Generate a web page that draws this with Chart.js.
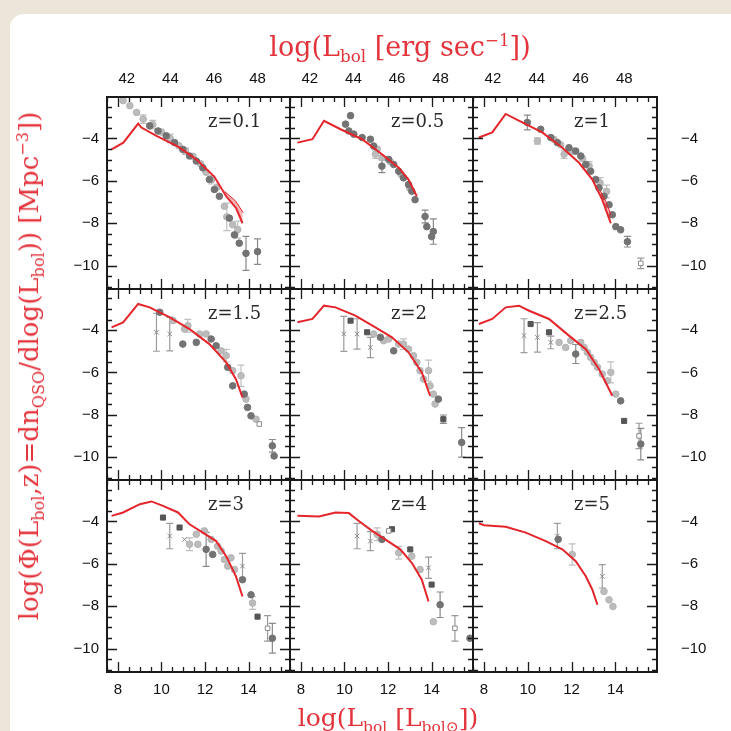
<!DOCTYPE html>
<html>
<head>
<meta charset="utf-8">
<script src="https://cdn.jsdelivr.net/npm/chart.js@4.4.1/dist/chart.umd.min.js"></script>
<style>
  html, body { margin: 0; padding: 0; }
  body { width: 731px; height: 731px; background: #ece5d9; position: relative; overflow: hidden; }
  #sheet { position: absolute; left: 10px; top: 14px; right: 0; bottom: 0; background: #fff; border-top-left-radius: 14px; }
  canvas { position: absolute; }
  .ttl { position: absolute; color: #e3343c; font-family: 'DejaVu Serif', serif; white-space: nowrap; line-height: 1; }
  .ttl sub, .ttl sup { font-size: 62%; }
  .zlab { position: absolute; font-family: 'DejaVu Serif', serif; font-size: 18px; color: #2a2a2a; line-height: 1; white-space: nowrap; }
</style>
</head>
<body>
<div id="sheet"></div>
<script>
// axis ticks
const xTicks = [8, 10, 12, 14];
const topTicks = [42, 44, 46, 48];
const yTicks = [-4, -6, -8, -10];
const LSUN = 33.59; // log L_sun in erg/s
const redshifts = ['z=0.1', 'z=0.5', 'z=1', 'z=1.5', 'z=2', 'z=2.5', 'z=3', 'z=4', 'z=5'];

// model curves [logL, logPhi]
const z01Model = [[7.71,-4.52],[8.25,-4.2],[8.93,-3.3],[9.08,-3.49],[9.77,-3.88],[10.76,-4.39],[11.6,-4.99],[12.43,-5.81],[12.97,-6.73],[13.42,-7.28],[13.72,-8.0]];
const z05Model = [[7.84,-4.2],[8.53,-4.04],[9.06,-3.17],[9.82,-3.57],[10.81,-4.04],[11.72,-4.75],[12.49,-5.38],[12.94,-5.94],[13.32,-6.73]];
const z1Model = [[7.77,-3.96],[8.38,-3.72],[8.99,-2.85],[9.75,-3.25],[10.66,-3.72],[11.58,-4.44],[12.34,-5.15],[12.95,-5.94],[13.4,-6.89],[13.79,-8.0]];
const z15Model = [[7.71,-3.87],[8.24,-3.63],[8.93,-2.76],[9.46,-2.92],[10.38,-3.39],[11.29,-3.95],[12.2,-4.66],[12.97,-5.53],[13.42,-6.32],[13.72,-7.19]];
const z2Model = [[7.84,-3.63],[8.53,-3.47],[9.06,-2.84],[9.59,-2.92],[10.5,-3.31],[11.42,-3.87],[12.18,-4.34],[12.94,-5.05],[13.55,-6.0],[13.93,-7.11]];
const z25Model = [[7.77,-3.71],[8.38,-3.47],[8.99,-2.92],[9.6,-2.84],[10.06,-3.08],[10.97,-3.47],[11.88,-4.26],[12.65,-4.9],[13.25,-5.84],[13.86,-7.11]];
const z3Model = [[7.71,-3.74],[8.24,-3.58],[9.01,-3.19],[9.54,-3.06],[10.07,-3.27],[10.76,-3.58],[11.29,-4.14],[11.9,-4.53],[12.51,-4.93],[12.97,-5.64],[13.42,-6.59],[13.72,-7.54]];
const z4Model = [[7.84,-3.74],[8.83,-3.77],[9.59,-3.58],[10.2,-3.61],[10.66,-3.98],[11.27,-4.45],[11.87,-4.85],[12.56,-5.32],[13.09,-5.95],[13.55,-6.75],[13.86,-7.78]];
const z5Model = [[7.77,-4.09],[8.0,-4.18],[8.99,-4.25],[9.91,-4.53],[10.82,-4.93],[11.58,-5.32],[12.19,-5.88],[12.65,-6.59],[12.95,-7.22],[13.18,-7.93]];

// upper edge of the model uncertainty band at the bright end
const z01Band = [[12.9,-6.5],[13.4,-6.95],[13.75,-7.5]];
const z1Band = [[13.3,-6.45],[13.55,-6.95],[13.8,-7.6]];

// binned data [logL, logPhi, error]
const z01Dark = [[9.46,-3.41,0],[9.84,-3.65,0],[10.22,-3.88,0],[10.6,-4.2,0],[10.98,-4.52,0],[11.29,-4.83,0],[11.6,-5.07,0],[11.9,-5.39,0],[12.2,-5.94,0],[12.43,-6.41,0],[12.66,-6.73,0],[13.12,-7.76,0],[13.35,-8.55,0],[13.57,-8.94,0],[13.88,-9.42,0.8],[14.41,-9.34,0.6]];
const z01Light = [[8.24,-2.22,0],[8.55,-2.46,0],[8.86,-2.78,0],[9.16,-3.09,0.2],[9.6,-3.35,0.2],[10.0,-3.7,0],[10.4,-4.0,0.2],[10.8,-4.35,0],[11.1,-4.6,0.15],[11.45,-4.85,0],[11.8,-5.2,0],[12.05,-5.6,0],[12.3,-5.95,0.2],[12.55,-6.3,0],[12.89,-7.2,0],[13.0,-7.7,0.65],[13.27,-8.07,0],[13.5,-8.3,0.4]];

const z05Dark = [[10.28,-2.93,0],[10.05,-3.33,0],[10.2,-3.65,0],[10.43,-3.8,0],[10.81,-3.96,0],[11.19,-4.04,0],[11.34,-4.36,0],[11.72,-5.31,0.3],[12.03,-4.99,0],[12.26,-5.23,0],[12.49,-5.55,0],[12.71,-5.86,0],[12.94,-6.18,0],[13.09,-6.49,0],[13.24,-6.89,0],[13.7,-7.68,0.3],[13.78,-8.16,0],[14.08,-8.39,0.6],[14.0,-8.63,0]];
const z05Light = [[11.42,-4.75,0.2],[11.72,-4.91,0],[11.5,-4.5,0],[12.1,-5.1,0],[12.6,-5.7,0],[13.0,-6.35,0]];

const z1Dark = [[9.98,-3.25,0.35],[10.59,-3.57,0],[11.05,-3.96,0],[11.35,-4.2,0],[11.88,-4.44,0],[12.19,-4.6,0],[12.42,-4.83,0],[12.65,-5.23,0],[12.87,-5.55,0],[13.1,-5.94,0],[13.25,-6.33,0],[13.48,-6.73,0],[13.71,-7.13,0],[13.86,-7.6,0],[14.02,-8.16,0],[14.24,-8.31,0],[14.55,-8.87,0.25]];
const z1Light = [[10.44,-4.12,0.15],[11.66,-4.75,0.2],[11.2,-4.05,0],[11.5,-4.3,0],[12.0,-4.6,0.15],[12.5,-4.95,0],[12.8,-5.3,0.2],[13.3,-6.1,0.25],[13.6,-6.5,0.3]];
const z1Open = [[15.16,-9.89,0.25]];

const z15Dark = [[9.92,-3.15,0],[10.98,-4.66,0],[11.6,-4.58,0],[12.28,-4.42,0],[12.51,-4.74,0],[13.04,-5.76,0],[13.27,-6.64,0],[13.8,-7.03,0],[13.95,-7.66,0],[14.11,-8.06,0],[15.09,-9.48,0.3],[15.17,-9.96,0]];
const z15Light = [[10.53,-3.55,0],[11.06,-3.95,0],[11.21,-3.79,0.3],[11.75,-4.18,0],[12.05,-4.18,0],[12.74,-4.98,0],[12.97,-5.21,0.3],[13.27,-5.92,0],[13.65,-6.16,0.5],[13.88,-7.27,0],[14.34,-8.22,0]];
const z15Cross = [[9.77,-4.1,0.9],[10.38,-4.18,0.8]];
const z15Open = [[14.49,-8.45,0]];

const z2Square = [[10.28,-3.55,0],[11.04,-4.1,0],[14.54,-8.22,0.2]];
const z2Dark = [[12.26,-4.98,0],[14.31,-7.27,0],[15.38,-9.32,0.7],[11.65,-4.34,0]];
const z2Light = [[11.34,-4.18,0],[11.8,-4.5,0],[12.03,-4.42,0],[12.49,-4.66,0],[12.71,-4.66,0.25],[12.94,-4.9,0],[13.17,-5.21,0],[13.32,-5.53,0],[13.47,-5.92,0],[13.63,-6.32,0],[13.86,-5.92,0.5],[13.93,-6.64,0],[14.08,-7.03,0],[14.16,-7.5,0]];
const z2Cross = [[9.97,-4.18,0.83],[10.58,-4.18,0.72],[11.19,-4.82,0.48]];

const z25Square = [[10.13,-3.71,0],[10.97,-4.1,0],[14.4,-8.3,0]];
const z25Dark = [[12.19,-5.13,0.45],[14.24,-7.35,0],[15.16,-9.4,0.75]];
const z25Light = [[11.43,-4.58,0],[11.73,-4.82,0],[11.96,-4.5,0],[12.42,-4.58,0],[12.57,-4.82,0],[12.72,-5.05,0],[12.87,-5.29,0],[13.03,-5.53,0],[13.18,-5.76,0],[13.4,-6.08,0],[13.63,-6.4,0],[13.79,-6.0,0.5],[14.02,-7.03,0]];
const z25Cross = [[9.83,-4.26,0.8],[10.44,-4.34,0.7],[11.05,-4.58,0.3]];
const z25Open = [[15.08,-9.01,0.6]];

const z3Square = [[10.07,-3.82,0],[10.83,-4.29,0],[14.41,-8.49,0]];
const z3Dark = [[12.05,-5.32,0.8],[13.72,-6.75,0],[14.11,-7.46,0],[15.09,-9.51,0.7],[12.35,-5.56,0]];
const z3Light = [[11.29,-5.08,0.3],[11.6,-4.61,0],[11.67,-5.08,0],[11.97,-4.45,0],[12.28,-4.85,0],[12.58,-5.17,0],[12.74,-5.4,0],[12.89,-5.8,0],[13.04,-6.11,0],[13.19,-5.72,0],[13.35,-6.27,0],[14.18,-7.85,0.3]];
const z3Cross = [[10.38,-4.69,0.6],[11.06,-4.85,0],[13.72,-6.11,0.6]];
const z3Open = [[14.87,-9.04,0.6]];

const z4Square = [[12.18,-4.37,0],[13.02,-5.32,0],[14.0,-6.98,0]];
const z4Dark = [[11.72,-4.85,0],[14.39,-7.93,0.6],[15.76,-9.51,0]];
const z4Light = [[11.5,-4.61,0.3],[12.49,-5.48,0.3],[13.09,-5.64,0],[13.47,-6.27,0],[14.08,-8.73,0]];
const z4Cross = [[10.58,-4.69,0.6],[11.19,-4.93,0.45],[13.86,-6.19,0.5]];
const z4Open = [[12.03,-4.45,0],[15.07,-9.04,0.6]];

const z5Dark = [[11.39,-4.85,0]];
const z5Light = [[12.03,-5.56,0.5],[13.48,-7.3,0],[13.71,-7.7,0],[13.89,-8.01,0]];
const z5Cross = [[11.35,-4.69,0.6],[13.4,-6.59,0.55]];

const panels = [
  { model: z01Model, band: z01Band, dark: z01Dark, light: z01Light },
  { model: z05Model, dark: z05Dark, light: z05Light },
  { model: z1Model, band: z1Band, dark: z1Dark, light: z1Light, open: z1Open },
  { model: z15Model, dark: z15Dark, light: z15Light, cross: z15Cross, open: z15Open },
  { model: z2Model, square: z2Square, dark: z2Dark, light: z2Light, cross: z2Cross },
  { model: z25Model, square: z25Square, dark: z25Dark, light: z25Light, cross: z25Cross, open: z25Open },
  { model: z3Model, square: z3Square, dark: z3Dark, light: z3Light, cross: z3Cross, open: z3Open },
  { model: z4Model, square: z4Square, dark: z4Dark, light: z4Light, cross: z4Cross, open: z4Open },
  { model: z5Model, dark: z5Dark, light: z5Light, cross: z5Cross }
];

const X_MIN = 7.5, X_MAX = 15.9, Y_MIN = -11.1, Y_MAX = -2.05;
const colEdges = [107, 290, 473, 657];
const rowEdges = [97, 289, 480, 672];
const ML = 60, MR = 60, MT = 40, MB = 40;

const pts = arr => arr.map(p => ({ x: p[0], y: p[1] }));
const minus = v => v < 0 ? '\u2212' + Math.abs(v) : String(v);

// error bars under the markers
const errorBars = {
  id: 'errorBars',
  beforeDatasetsDraw(chart) {
    const { ctx, chartArea: a, scales: { x, y } } = chart;
    ctx.save();
    ctx.beginPath();
    ctx.rect(a.left, a.top, a.right - a.left, a.bottom - a.top);
    ctx.clip();
    chart.data.datasets.forEach(ds => {
      if (!ds.errors) return;
      ctx.strokeStyle = ds.errorColor;
      ctx.lineWidth = 1.2;
      ds.data.forEach((p, i) => {
        const e = ds.errors[i];
        if (!e) return;
        const px = x.getPixelForValue(p.x);
        const y1 = y.getPixelForValue(p.y - e), y2 = y.getPixelForValue(p.y + e);
        ctx.beginPath();
        ctx.moveTo(px, y1); ctx.lineTo(px, y2);
        ctx.moveTo(px - 3.5, y1); ctx.lineTo(px + 3.5, y1);
        ctx.moveTo(px - 3.5, y2); ctx.lineTo(px + 3.5, y2);
        ctx.stroke();
      });
    });
    ctx.restore();
  }
};

// box with inward ticks on all four sides
const frameTicks = {
  id: 'frameTicks',
  afterDraw(chart) {
    const { ctx, chartArea: a, scales: { x, y } } = chart;
    ctx.save();
    ctx.strokeStyle = '#1a1a1a';
    ctx.lineWidth = 1.3;
    ctx.beginPath();
    for (let v = Math.ceil(X_MIN * 2) / 2; v <= X_MAX; v += 0.5) {
      const px = Math.round(x.getPixelForValue(v)) + 0.5;
      const len = (v % 2 === 0) ? 10 : 5;
      ctx.moveTo(px, a.bottom); ctx.lineTo(px, a.bottom - len);
      ctx.moveTo(px, a.top); ctx.lineTo(px, a.top + len);
    }
    for (let v = Math.ceil(Y_MIN * 2) / 2; v <= Y_MAX; v += 0.5) {
      const py = Math.round(y.getPixelForValue(v)) + 0.5;
      const len = (Math.abs(v) % 2 === 0) ? 10 : 5;
      ctx.moveTo(a.left, py); ctx.lineTo(a.left + len, py);
      ctx.moveTo(a.right, py); ctx.lineTo(a.right - len, py);
    }
    ctx.stroke();
    ctx.lineWidth = 2;
    ctx.strokeRect(a.left, a.top, a.right - a.left, a.bottom - a.top);
    ctx.restore();
  }
};

function markerSet(arr, style, fill, border, errColor, radius) {
  return {
    type: 'scatter', data: pts(arr), errors: arr.map(p => p[2]), errorColor: errColor,
    pointStyle: style, pointRadius: radius, backgroundColor: fill, borderColor: border, borderWidth: 1,
    xAxisID: 'x', yAxisID: 'y'
  };
}

const tickFont = { family: "'Liberation Sans', Arial, sans-serif", size: 15 };

panels.forEach((p, k) => {
  const r = Math.floor(k / 3), c = k % 3;
  const left = colEdges[c], top = rowEdges[r];
  const w = colEdges[c + 1] - left, h = rowEdges[r + 1] - top;
  const cv = document.createElement('canvas');
  cv.width = w + ML + MR; cv.height = h + MT + MB;
  cv.style.left = (left - ML) + 'px'; cv.style.top = (top - MT) + 'px';
  cv.style.width = cv.width + 'px'; cv.style.height = cv.height + 'px';
  document.body.appendChild(cv);

  const datasets = [{
    type: 'line', data: pts(p.model), borderColor: '#e4262c', borderWidth: 2,
    pointRadius: 0, tension: 0, fill: false, xAxisID: 'x', yAxisID: 'y'
  }];
  if (p.band) {
    datasets.push({
      type: 'line', data: pts(p.band), borderColor: '#e4262c', borderWidth: 1,
      pointRadius: 0, tension: 0, fill: 0, backgroundColor: 'rgba(228,38,44,0.35)', xAxisID: 'x', yAxisID: 'y'
    });
  }
  if (p.open) datasets.push(markerSet(p.open, 'rect', '#ffffff', '#8a8a8a', '#9a9a9a', 3.2));
  if (p.square) datasets.push(markerSet(p.square, 'rect', '#555555', '#555555', '#8a8a8a', 3.6));
  if (p.dark) datasets.push(markerSet(p.dark, 'circle', '#737373', '#737373', '#8a8a8a', 3.3));
  if (p.cross) datasets.push(markerSet(p.cross, 'crossRot', '#8a8a8a', '#8a8a8a', '#9c9c9c', 3.2));
  if (p.light) datasets.push(markerSet(p.light, 'circle', '#bcbcbc', '#b3b3b3', '#c0c0c0', 3.3));

  new Chart(cv.getContext('2d'), {
    data: { datasets },
    options: {
      responsive: false, animation: false, events: [],
      layout: { padding: 0 },
      plugins: { legend: { display: false }, tooltip: { enabled: false } },
      scales: {
        x: {
          type: 'linear', position: 'bottom', min: X_MIN, max: X_MAX,
          grid: { display: false, drawTicks: false }, border: { display: false },
          ticks: { display: r === 2, padding: 9, font: tickFont, color: '#111', maxRotation: 0, autoSkip: false, callback: v => String(v) },
          afterBuildTicks: s => { s.ticks = xTicks.map(v => ({ value: v })); },
          afterFit: s => { s.height = MB; }
        },
        xTop: {
          type: 'linear', position: 'top', min: X_MIN + LSUN, max: X_MAX + LSUN,
          grid: { display: false, drawTicks: false }, border: { display: false },
          ticks: { display: r === 0, padding: 9, font: tickFont, color: '#111', maxRotation: 0, autoSkip: false, callback: v => String(v) },
          afterBuildTicks: s => { s.ticks = topTicks.map(v => ({ value: v })); },
          afterFit: s => { s.height = MT; }
        },
        y: {
          type: 'linear', position: 'left', min: Y_MIN, max: Y_MAX,
          grid: { display: false, drawTicks: false }, border: { display: false },
          ticks: { display: c === 0, padding: 8, font: tickFont, color: '#111', autoSkip: false, callback: minus },
          afterBuildTicks: s => { s.ticks = yTicks.map(v => ({ value: v })); },
          afterFit: s => { s.width = ML; }
        },
        yRight: {
          type: 'linear', position: 'right', min: Y_MIN, max: Y_MAX,
          grid: { display: false, drawTicks: false }, border: { display: false },
          ticks: { display: c === 2, padding: 24, font: tickFont, color: '#111', autoSkip: false, callback: minus },
          afterBuildTicks: s => { s.ticks = yTicks.map(v => ({ value: v })); },
          afterFit: s => { s.width = MR; }
        }
      }
    },
    plugins: [errorBars, frameTicks]
  });

  const lab = document.createElement('div');
  lab.className = 'zlab';
  lab.textContent = redshifts[k];
  lab.style.left = (left + 101) + 'px';
  lab.style.top = (top + 15) + 'px';
  document.body.appendChild(lab);
});
</script>
<div class="ttl" style="left:400px; top:32px; font-size:27px; transform:translateX(-50%);">log(L<sub>bol</sub> [erg sec<sup>&minus;1</sup>])</div>
<div class="ttl" style="left:388px; top:705px; font-size:25px; transform:translateX(-50%);">log(L<sub>bol</sub> [L<sub>bol&#8857;</sub>])</div>
<div class="ttl" style="left:31px; top:366px; font-size:26px; transform:translate(-50%,-50%) rotate(-90deg);">log(&Phi;(L<sub>bol</sub>,z)=dn<sub>QSO</sub>/dlog(L<sub>bol</sub>)) [Mpc<sup>&minus;3</sup>])</div>
</body>
</html>
